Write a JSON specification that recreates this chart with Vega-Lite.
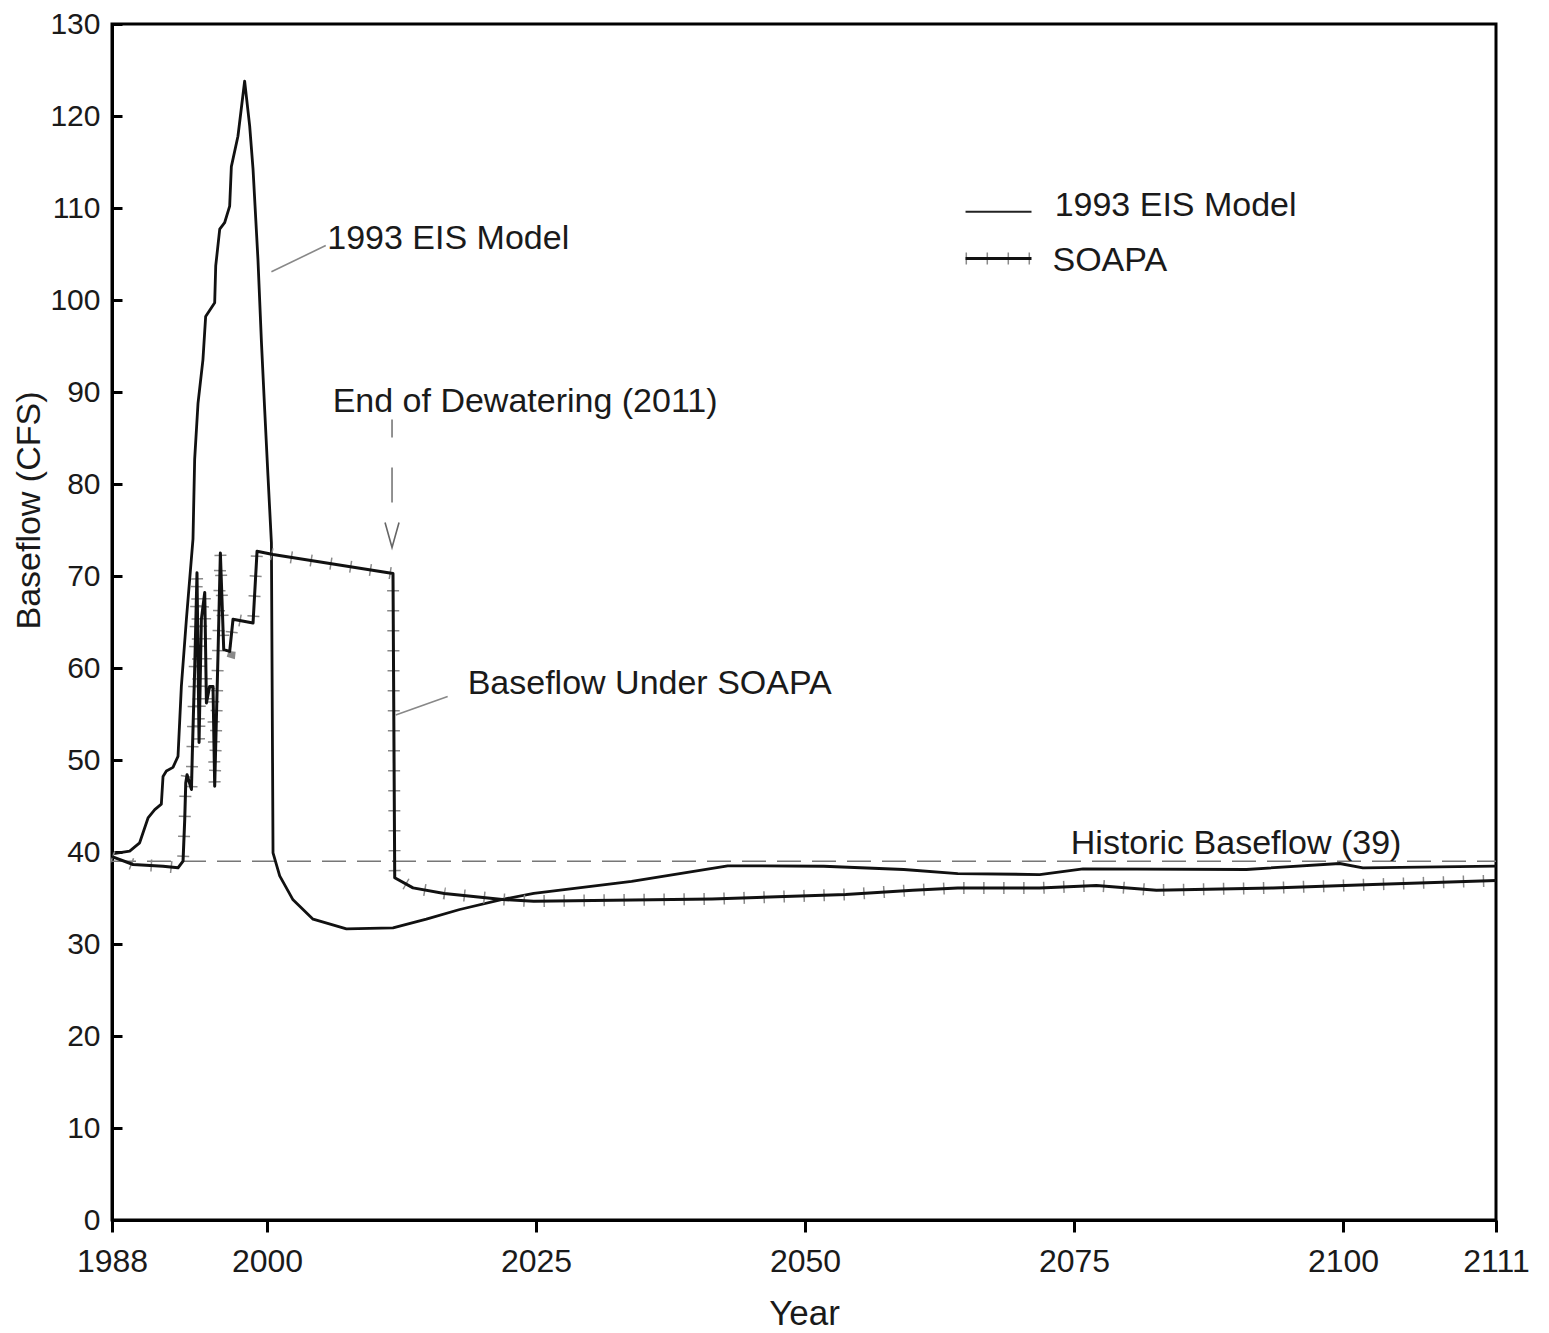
{
  "$schema": "https://vega.github.io/schema/vega-lite/v6.json",
  "width": 1384,
  "height": 1196,
  "autosize": {"type": "none"},
  "padding": {"left": 112, "top": 24, "right": 53, "bottom": 113},
  "background": "white",
  "config": {
    "view": {"stroke": "black", "strokeWidth": 3},
    "font": "Liberation Sans"
  },
  "datasets": {
    "eis": [
      {"year": 1988.0, "value": 39.8},
      {"year": 1989.37, "value": 40.1},
      {"year": 1990.14, "value": 41.0},
      {"year": 1990.79, "value": 43.7},
      {"year": 1991.31, "value": 44.6},
      {"year": 1991.82, "value": 45.2},
      {"year": 1991.95, "value": 48.2},
      {"year": 1992.21, "value": 48.8},
      {"year": 1992.72, "value": 49.2},
      {"year": 1993.11, "value": 50.4},
      {"year": 1993.37, "value": 58.0},
      {"year": 1993.76, "value": 65.3},
      {"year": 1994.27, "value": 74.0},
      {"year": 1994.4, "value": 82.7},
      {"year": 1994.66, "value": 88.8},
      {"year": 1995.04, "value": 93.5},
      {"year": 1995.25, "value": 98.2},
      {"year": 1995.95, "value": 99.7},
      {"year": 1996.03, "value": 103.7},
      {"year": 1996.34, "value": 107.7},
      {"year": 1996.72, "value": 108.4},
      {"year": 1997.11, "value": 110.2},
      {"year": 1997.24, "value": 114.5},
      {"year": 1997.75, "value": 117.8},
      {"year": 1998.27, "value": 123.8},
      {"year": 1998.66, "value": 118.9},
      {"year": 1998.92, "value": 114.2},
      {"year": 1999.3, "value": 104.4},
      {"year": 1999.57, "value": 95.4},
      {"year": 1999.82, "value": 88.1},
      {"year": 2000.09, "value": 80.9},
      {"year": 2000.41, "value": 73.6},
      {"year": 2000.56, "value": 39.9},
      {"year": 2001.18, "value": 37.4},
      {"year": 2002.42, "value": 34.8},
      {"year": 2004.28, "value": 32.7},
      {"year": 2007.38, "value": 31.65},
      {"year": 2011.71, "value": 31.75},
      {"year": 2014.81, "value": 32.7},
      {"year": 2017.91, "value": 33.75},
      {"year": 2021.88, "value": 34.84},
      {"year": 2024.79, "value": 35.5},
      {"year": 2033.89, "value": 36.8},
      {"year": 2042.82, "value": 38.5},
      {"year": 2051.74, "value": 38.45},
      {"year": 2059.18, "value": 38.1},
      {"year": 2064.2, "value": 37.66},
      {"year": 2071.81, "value": 37.55},
      {"year": 2075.84, "value": 38.17},
      {"year": 2091.02, "value": 38.1},
      {"year": 2099.69, "value": 38.75},
      {"year": 2101.43, "value": 38.28},
      {"year": 2111.0, "value": 38.46}
    ],
    "soapa": [
      {"year": 1988.0, "value": 39.5},
      {"year": 1989.63, "value": 38.64},
      {"year": 1991.95, "value": 38.46},
      {"year": 1993.11, "value": 38.28},
      {"year": 1993.5, "value": 39.0},
      {"year": 1993.63, "value": 43.5},
      {"year": 1993.71, "value": 47.5},
      {"year": 1993.81, "value": 48.4},
      {"year": 1994.15, "value": 46.8},
      {"year": 1994.22, "value": 50.8},
      {"year": 1994.4, "value": 59.8},
      {"year": 1994.58, "value": 70.35},
      {"year": 1994.74, "value": 51.9},
      {"year": 1994.92, "value": 65.3},
      {"year": 1995.18, "value": 68.2},
      {"year": 1995.31, "value": 56.2},
      {"year": 1995.56, "value": 58.0},
      {"year": 1995.82, "value": 58.0},
      {"year": 1995.95, "value": 47.15},
      {"year": 1996.21, "value": 61.65},
      {"year": 1996.39, "value": 72.5},
      {"year": 1996.65, "value": 62.0},
      {"year": 1997.11, "value": 61.8},
      {"year": 1997.37, "value": 65.3},
      {"year": 1998.92, "value": 64.9},
      {"year": 1999.23, "value": 72.7},
      {"year": 2000.56, "value": 72.34},
      {"year": 2011.71, "value": 70.27},
      {"year": 2011.87, "value": 37.2},
      {"year": 2013.57, "value": 36.1},
      {"year": 2016.48, "value": 35.5},
      {"year": 2021.88, "value": 34.84},
      {"year": 2024.79, "value": 34.65},
      {"year": 2041.37, "value": 34.9},
      {"year": 2053.78, "value": 35.38},
      {"year": 2060.01, "value": 35.85},
      {"year": 2064.19, "value": 36.1},
      {"year": 2071.81, "value": 36.1},
      {"year": 2077.08, "value": 36.35},
      {"year": 2082.66, "value": 35.85},
      {"year": 2093.49, "value": 36.1},
      {"year": 2102.15, "value": 36.47},
      {"year": 2111.0, "value": 36.9}
    ],
    "historic": [{"year": 1988, "year2": 2111, "value": 39}],
    "leaders": [
      {"year": 2000.41, "value": 103.07, "year2": 2005.46, "value2": 105.92},
      {"year": 2011.96, "value": 54.89, "year2": 2016.79, "value2": 56.9}
    ],
    "arrow": [{"year": 2011.62, "value": 87.01, "value2": 77.77}],
    "arrowhead": [{"year": 2011.62, "value": 74.46}],
    "notes": [
      {"year": 2005.6, "value": 105.49, "label": "1993 EIS Model"},
      {"year": 2006.1, "value": 87.88, "label": "End of Dewatering (2011)"},
      {"year": 2018.65, "value": 57.12, "label": "Baseflow Under SOAPA"},
      {"year": 2074.7, "value": 39.73, "label": "Historic Baseflow (39)"},
      {"year": 2073.2, "value": 109.08, "label": "1993 EIS Model"},
      {"year": 2073.0, "value": 103.1, "label": "SOAPA"}
    ],
    "legendEis": [{"series": "1993 EIS Model", "year": 2064.92, "year2": 2071.05, "value": 109.6}],
    "legendSoapa": [{"series": "SOAPA", "year": 2064.92, "year2": 2071.05, "value": 104.5}]
  },
  "encoding": {
    "x": {
      "field": "year",
      "type": "quantitative",
      "scale": {"domain": [1988, 2000, 2100, 2111], "range": [0, 155, 1231, 1384], "nice": false, "zero": false},
      "axis": {
        "title": "Year",
        "values": [1988, 2000, 2025, 2050, 2075, 2100, 2111],
        "format": "d",
        "grid": false,
        "domainColor": "black",
        "domainWidth": 3,
        "tickColor": "black",
        "tickWidth": 3,
        "tickSize": 12,
        "labelFlush": false,
        "labelFontSize": 32,
        "labelColor": "#1a1a1a",
        "labelBaseline": "alphabetic",
        "labelPadding": 39,
        "labelOverlap": false,
        "titleFontSize": 35,
        "titleFontWeight": "normal",
        "titleColor": "#1a1a1a",
        "titleBaseline": "alphabetic",
        "titleX": 692,
        "titleY": 104.5,
        "titleAlign": "center"
      }
    },
    "y": {
      "field": "value",
      "type": "quantitative",
      "scale": {"domain": [0, 130], "nice": false, "zero": true},
      "axis": {
        "title": "Baseflow (CFS)",
        "values": [0, 10, 20, 30, 40, 50, 60, 70, 80, 90, 100, 110, 120, 130],
        "grid": false,
        "domainColor": "black",
        "domainWidth": 3,
        "tickColor": "black",
        "tickWidth": 3,
        "tickSize": -10,
        "labelFontSize": 30,
        "labelColor": "#1a1a1a",
        "labelPadding": 22,
        "labelBaseline": "middle",
        "labelFlush": false,
        "labelOverlap": false,
        "titleFontSize": 34,
        "titleFontWeight": "normal",
        "titleColor": "#1a1a1a",
        "titleAngle": 270,
        "titleAlign": "center",
        "titleBaseline": "middle",
        "titleX": -83,
        "titleY": 486
      }
    }
  },
  "layer": [
    {
      "data": {"name": "historic"},
      "mark": {"type": "rule", "color": "#777777", "strokeWidth": 1.6, "strokeDash": [24, 11]},
      "encoding": {"x2": {"field": "year2"}}
    },
    {
      "data": {"name": "eis"},
      "mark": {"type": "line", "color": "#111111", "strokeWidth": 2.8, "strokeJoin": "round"},
      "encoding": {}
    },
    {
      "data": {"name": "soapa"},
      "mark": {"type": "line", "color": "#8a8a8a", "strokeWidth": 12, "strokeDash": [1.5, 18.5], "strokeCap": "butt"},
      "encoding": {}
    },
    {
      "data": {"name": "soapa"},
      "mark": {"type": "line", "color": "#111111", "strokeWidth": 3, "strokeJoin": "round"},
      "encoding": {}
    },
    {
      "data": {"name": "leaders"},
      "mark": {"type": "rule", "color": "#888888", "strokeWidth": 1.6},
      "encoding": {"x2": {"field": "year2"}, "y2": {"field": "value2"}}
    },
    {
      "data": {"name": "arrow"},
      "mark": {"type": "rule", "color": "#777777", "strokeWidth": 1.6, "strokeDash": [18, 30, 35, 30]},
      "encoding": {"y2": {"field": "value2"}}
    },
    {
      "data": {"name": "arrowhead"},
      "mark": {"type": "point", "shape": "M-0.56,-1L0,1L0.56,-1", "size": 625, "filled": false, "color": "#666666", "strokeWidth": 1.6, "opacity": 1},
      "encoding": {}
    },
    {
      "data": {"name": "legendEis"},
      "mark": {"type": "rule", "color": "#222222", "strokeWidth": 2},
      "encoding": {"x2": {"field": "year2"}}
    },
    {
      "data": {"name": "legendSoapa"},
      "mark": {"type": "rule", "color": "#8a8a8a", "strokeWidth": 12, "strokeDash": [1.5, 19.5], "strokeCap": "butt"},
      "encoding": {"x2": {"field": "year2"}}
    },
    {
      "data": {"name": "legendSoapa"},
      "mark": {"type": "rule", "color": "#111111", "strokeWidth": 3},
      "encoding": {"x2": {"field": "year2"}}
    },
    {
      "data": {"name": "notes"},
      "mark": {"type": "text", "align": "left", "baseline": "alphabetic", "fontSize": 34, "color": "#1a1a1a"},
      "encoding": {"text": {"field": "label"}}
    }
  ]
}
